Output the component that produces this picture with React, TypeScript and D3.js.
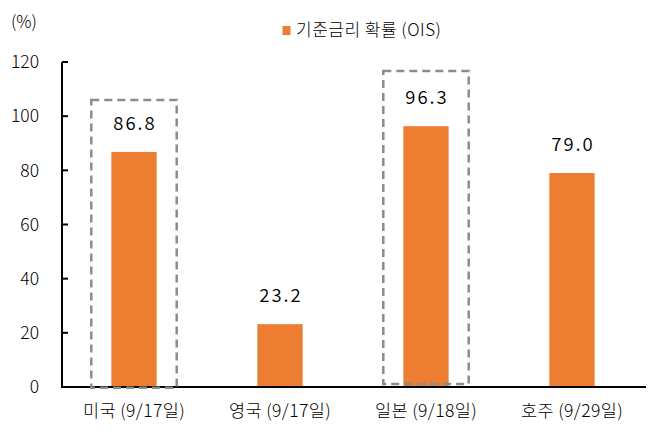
import React from "react";
import * as d3 from "d3";

const categories = ["미국 (9/17일)", "영국 (9/17일)", "일본 (9/18일)", "호주 (9/29일)"];
const values = [86.8, 23.2, 96.3, 79.0];
const yTicks = [0, 20, 40, 60, 80, 100, 120];
const legendLabel = "기준금리 확률 (OIS)";
const unitLabel = "(%)";
// highlighted boxes around selected categories
const boxCategories = ["미국 (9/17일)", "일본 (9/18일)"];
const boxTops = [106, 116.7];
const boxBottoms = [-0.3, 1.1];

const W = 651;
const H = 431;
const ORANGE = "#ED7D31";
const FONT = "'Noto Sans CJK KR', 'Noto Sans', sans-serif";

export default function App() {
  const x = d3
    .scaleBand<string>()
    .domain(categories)
    .range([61, 645])
    .paddingInner(0.69)
    .paddingOuter(0.345);
  const y = d3.scaleLinear().domain([0, 120]).range([387, 62]);
  const step = x.step();
  const boxW = step * 0.585;

  return (
    <svg
      width={W}
      height={H}
      style={{ position: "absolute", left: 0, top: 0, background: "#fff" }}
      fontFamily={FONT}
      fontWeight={300}
    >
      <rect width={W} height={H} fill="#fff" />
      {/* unit */}
      <text x={11} y={27.5} fontSize={17} fill="#000">
        {unitLabel}
      </text>
      {/* legend */}
      <rect x={282.5} y={26} width={8} height={9} fill={ORANGE} />
      <text x={296} y={36} fontSize={17} letterSpacing={0.5} fill="#000">
        {legendLabel}
      </text>

      {/* y axis */}
      <line x1={62} x2={62} y1={y(120)} y2={y(0)} stroke="#000" strokeWidth={2} />
      {yTicks.map((t) => (
        <g key={t}>
          <line x1={62} x2={68} y1={y(t)} y2={y(t)} stroke="#000" strokeWidth={2} />
          <text
            x={39}
            y={y(t)}
            dy="0.36em"
            textAnchor="end"
            fontSize={17.5}
            fill="#000"
          >
            {t}
          </text>
        </g>
      ))}

      {/* bars */}
      {categories.map((c, i) => (
        <g key={c}>
          <rect
            x={x(c)!}
            y={y(values[i])}
            width={x.bandwidth()}
            height={y(0) - y(values[i])}
            fill={ORANGE}
          />
          <text
            x={x(c)! + x.bandwidth() / 2 + 1}
            y={y(values[i]) - 22}
            textAnchor="middle"
            fontSize={18.5}
            fontWeight={350}
            letterSpacing={2}
            fill="#000"
          >
            {values[i].toFixed(1)}
          </text>
          <text
            x={x(c)! + x.bandwidth() / 2}
            y={416.5}
            textAnchor="middle"
            fontSize={17.5}
            letterSpacing={0.4}
            fill="#000"
          >
            {c}
          </text>
        </g>
      ))}

      {/* x axis */}
      <line x1={61} x2={646} y1={y(0)} y2={y(0)} stroke="#000" strokeWidth={2} />

      {/* dashed highlight boxes */}
      {boxCategories.map((c, i) => {
        const cx = x(c)! + x.bandwidth() / 2;
        return (
          <rect
            key={c}
            x={cx - boxW / 2}
            y={y(boxTops[i])}
            width={boxW}
            height={y(boxBottoms[i]) - y(boxTops[i])}
            fill="none"
            stroke="#8C8C8C"
            strokeWidth={2.5}
            strokeDasharray="8 5"
          />
        );
      })}
    </svg>
  );
}
